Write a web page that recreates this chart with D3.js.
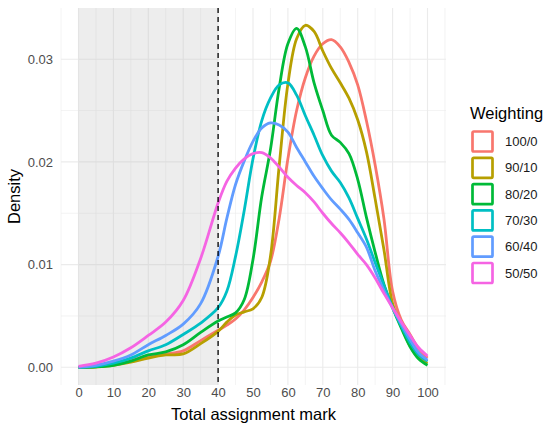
<!DOCTYPE html>
<html>
<head>
<meta charset="utf-8">
<script src="https://cdn.jsdelivr.net/npm/d3@7"></script>
<style>
  html, body { margin: 0; padding: 0; background: #ffffff; }
  svg { display: block; font-family: "Liberation Sans", Arial, Helvetica, sans-serif; }
</style>
</head>
<body>
<svg id="chart" width="560" height="429"></svg>
<script>
// ---- data ----
const weightings = ["100/0", "90/10", "80/20", "70/30", "60/40", "50/50"];
const colours = ["#F8766D", "#B79F00", "#00BA38", "#00BFC4", "#619CFF", "#F564E3"];
const marks = [0,5,10,15,20,25,30,35,40,42.5,45,47.5,50,52.5,55,57.5,60,62.5,65,67.5,70,72.5,75,77.5,80,82.5,85,87.5,90,92.5,95,97.5,100];
const density100_0 = [0,0.0001,0.0003,0.0007,0.0011,0.0013,0.0016,0.0026,0.0036,0.0041,0.0047,0.0056,0.0068,0.0083,0.0103,0.0145,0.0203,0.0250,0.0282,0.0303,0.0315,0.0319,0.0312,0.0297,0.0275,0.0240,0.0197,0.0145,0.0074,0.0046,0.0032,0.0018,0.0009];
const density90_10 = [0,0.00003,0.0002,0.0005,0.0009,0.0012,0.0013,0.0023,0.0035,0.0044,0.0051,0.0054,0.0057,0.0068,0.0108,0.0196,0.0276,0.0320,0.0333,0.0327,0.0308,0.0291,0.0277,0.0262,0.0241,0.0210,0.0164,0.0115,0.0062,0.0040,0.0021,0.0009,0.0004];
const density80_20 = [0,0.00005,0.0002,0.0006,0.0012,0.0015,0.0022,0.0034,0.0045,0.0049,0.0053,0.0066,0.0105,0.0166,0.0212,0.0272,0.0315,0.0330,0.0312,0.0277,0.0250,0.0226,0.0219,0.0208,0.0183,0.0146,0.0112,0.0081,0.0058,0.0038,0.0020,0.0008,0.0002];
const density70_30 = [0,0.0001,0.0004,0.0009,0.0016,0.0022,0.0032,0.0043,0.0058,0.0074,0.0108,0.0153,0.0203,0.0240,0.0262,0.0275,0.0277,0.0265,0.0245,0.0226,0.0206,0.0191,0.0180,0.0165,0.0145,0.0125,0.0102,0.0080,0.0058,0.0040,0.0024,0.0012,0.0006];
const density60_40 = [0.00002,0.0002,0.0006,0.0012,0.0022,0.0031,0.0042,0.0062,0.0108,0.0145,0.0178,0.0201,0.0220,0.0233,0.0238,0.0236,0.0229,0.0214,0.0200,0.0186,0.0174,0.0163,0.0154,0.0144,0.0131,0.0117,0.0094,0.0075,0.0058,0.0042,0.0027,0.0014,0.0007];
const density50_50 = [0.0001,0.0004,0.0010,0.0019,0.0031,0.0044,0.0065,0.0106,0.0160,0.0181,0.0194,0.0203,0.0208,0.0209,0.0204,0.0195,0.0185,0.0177,0.0170,0.0161,0.0150,0.0140,0.0131,0.0121,0.0110,0.0100,0.0087,0.0072,0.0058,0.0044,0.0031,0.0019,0.0011];
const seriesValues = [density100_0, density90_10, density80_20, density70_30, density60_40, density50_50];
const xTicks = [0,10,20,30,40,50,60,70,80,90,100];
const xMinor = [-5,5,15,25,35,45,55,65,75,85,95,105];
const yTicks = [0, 0.01, 0.02, 0.03];
const yTickLabels = ["0.00", "0.01", "0.02", "0.03"];
const yMinor = [0.005, 0.015, 0.025];
const shadedRange = [0, 40];
const cutoff = 40;

// ---- layout ----
const svg = d3.select("#chart");
const panel = { left: 61, right: 446, top: 8, bottom: 385 };
const x = d3.scaleLinear().domain([0, 100]).range([78.5, 427.5]);
const y = d3.scaleLinear().domain([0, 0.03]).range([367.3, 59.2]);

const g = svg.append("g");

// grid
g.selectAll("line.xminor").data(xMinor).join("line")
  .attr("x1", d => x(d)).attr("x2", d => x(d))
  .attr("y1", panel.top).attr("y2", panel.bottom)
  .attr("stroke", "#EBEBEB").attr("stroke-width", 0.6);
g.selectAll("line.yminor").data(yMinor).join("line")
  .attr("y1", d => y(d)).attr("y2", d => y(d))
  .attr("x1", panel.left).attr("x2", panel.right)
  .attr("stroke", "#EBEBEB").attr("stroke-width", 0.6);
g.selectAll("line.xmajor").data(xTicks).join("line")
  .attr("x1", d => x(d)).attr("x2", d => x(d))
  .attr("y1", panel.top).attr("y2", panel.bottom)
  .attr("stroke", "#EBEBEB").attr("stroke-width", 1.1);
g.selectAll("line.ymajor").data(yTicks).join("line")
  .attr("y1", d => y(d)).attr("y2", d => y(d))
  .attr("x1", panel.left).attr("x2", panel.right)
  .attr("stroke", "#EBEBEB").attr("stroke-width", 1.1);

// shaded region
g.append("rect")
  .attr("x", x(shadedRange[0])).attr("width", x(shadedRange[1]) - x(shadedRange[0]))
  .attr("y", panel.top).attr("height", panel.bottom - panel.top)
  .attr("fill", "#BEBEBE").attr("fill-opacity", 0.28);

// curves
const line = d3.line()
  .x((d, i) => x(marks[i]))
  .y(d => y(d))
  .curve(d3.curveCatmullRom.alpha(0.5));
g.selectAll("path.curve").data(seriesValues).join("path")
  .attr("class", "curve")
  .attr("d", d => line(d))
  .attr("fill", "none")
  .attr("stroke", (d, i) => colours[i])
  .attr("stroke-width", 2.8)
  .attr("stroke-linejoin", "round");

// cutoff line
g.append("line")
  .attr("x1", x(cutoff)).attr("x2", x(cutoff))
  .attr("y1", panel.top).attr("y2", panel.bottom)
  .attr("stroke", "#000").attr("stroke-width", 1.3)
  .attr("stroke-dasharray", "5,4");

// axis labels
const xAxis = d3.axisBottom(x).tickValues(xTicks).tickSize(0).tickPadding(0);
const xg = svg.append("g").attr("transform", `translate(0, 388)`).call(xAxis);
xg.select(".domain").remove();
xg.selectAll("text").attr("font-size", 13).attr("fill", "#4D4D4D")
  .attr("font-family", "Liberation Sans, Arial, sans-serif").attr("dy", "0.71em");

const yAxis = d3.axisLeft(y).tickValues(yTicks).tickFormat((d, i) => yTickLabels[i]).tickSize(0).tickPadding(0);
const yg = svg.append("g").attr("transform", `translate(53, 0)`).call(yAxis);
yg.select(".domain").remove();
yg.selectAll("text").attr("font-size", 13).attr("fill", "#4D4D4D")
  .attr("font-family", "Liberation Sans, Arial, sans-serif");

svg.append("text")
  .attr("x", (panel.left + panel.right) / 2).attr("y", 420)
  .attr("text-anchor", "middle").attr("font-size", 16.5).attr("fill", "#000")
  .text("Total assignment mark");
svg.append("text")
  .attr("transform", `translate(20, ${(panel.top + panel.bottom) / 2}) rotate(-90)`)
  .attr("text-anchor", "middle").attr("font-size", 16.5).attr("fill", "#000")
  .text("Density");

// legend
const legend = svg.append("g");
legend.append("text").attr("x", 470).attr("y", 119)
  .attr("font-size", 16.5).attr("fill", "#000").text("Weighting");
const items = legend.selectAll("g.item").data(weightings).join("g")
  .attr("transform", (d, i) => `translate(0, ${131.5 + i * 26.3})`);
items.append("rect")
  .attr("x", 472.5).attr("y", 0).attr("width", 20).attr("height", 20).attr("rx", 1.2)
  .attr("fill", "#fff").attr("stroke", (d, i) => colours[i]).attr("stroke-width", 2.7);
items.append("text")
  .attr("x", 505).attr("y", 10).attr("dy", "0.35em")
  .attr("font-size", 13).attr("fill", "#1a1a1a").text(d => d);
</script>
</body>
</html>
